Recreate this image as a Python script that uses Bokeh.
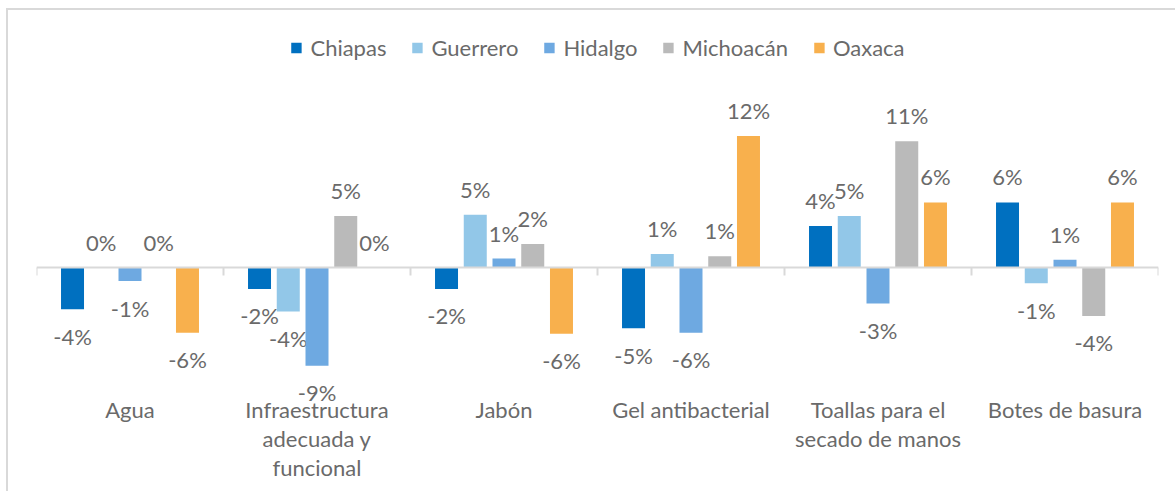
from bokeh.plotting import figure
from bokeh.models import ColumnDataSource, FactorRange, Span, Range1d
from bokeh.transform import dodge
from bokeh.core.properties import value
from bokeh.embed import file_html
from bokeh.resources import INLINE

categories = ["Agua", "Infraestructura\nadecuada y\nfuncional", "Jabón",
              "Gel antibacterial", "Toallas para el\nsecado de manos", "Botes de basura"]
series = ["Chiapas", "Guerrero", "Hidalgo", "Michoacán", "Oaxaca"]
chiapas = [-3.7, -1.9, -1.9, -5.4, 3.7, 5.8]
guerrero = [0.0, -3.9, 4.7, 1.2, 4.6, -1.4]
hidalgo = [-1.2, -8.75, 0.8, -5.8, -3.2, 0.7]
michoacan = [0.0, 4.6, 2.1, 1.0, 11.25, -4.3]
oaxaca = [-5.8, 0.0, -5.9, 11.7, 5.8, 5.8]
colors = ["#0070C0", "#92C7E8", "#6EA9E1", "#BABABA", "#F8B04D"]

values = [chiapas, guerrero, hidalgo, michoacan, oaxaca]

FONT = "Lato"
TXT = "#6a6a6a"

p = figure(width=1169, height=483, x_range=FactorRange(*categories),
           y_range=Range1d(-12.455, 21.99), output_backend="svg",
           toolbar_location=None, min_border_left=28, min_border_right=19,
           min_border_top=10, min_border_bottom=86)
p.styles = {"margin-left": "6px", "margin-top": "8px",
            "border-left": "2px solid #d9d9d9", "border-top": "2px solid #d9d9d9"}
p.outline_line_color = None
p.xgrid.visible = False
p.ygrid.visible = False
p.yaxis.visible = False

xa = p.xaxis[0]
xa.axis_line_color = None
xa.major_tick_line_color = None
xa.minor_tick_line_color = None
xa.major_label_text_font = FONT
xa.major_label_text_font_size = "22px"
xa.major_label_text_color = TXT
xa.major_label_text_line_height = 1.08
xa.major_label_standoff = -18

p.add_layout(Span(location=0, dimension="width", line_color="#d9d9d9", line_width=2))

step = 0.1537
bw = 0.123
for i, (name, vals, col) in enumerate(zip(series, values, colors)):
    src = ColumnDataSource(dict(
        cat=categories, val=vals,
        lab=[f"{round(v)}%" for v in vals],
        yoff=[-25.5 if v >= 0 else 27 for v in vals],
    ))
    off = (i - 2) * step
    p.vbar(x=dodge("cat", off, range=p.x_range), top="val", bottom=0, width=bw,
           color=col, line_color=None, source=src, legend_label=name)
    p.text(x=dodge("cat", off, range=p.x_range), y="val", text="lab", source=src,
           y_offset="yoff", text_align="center", text_baseline="middle",
           text_font=value(FONT), text_font_size="22px", text_color=TXT)

tick_src = ColumnDataSource(dict(cat=categories))
p.segment(x0=dodge("cat", -0.5, range=p.x_range), y0=0,
          x1=dodge("cat", -0.5, range=p.x_range), y1=-0.7,
          source=tick_src, line_color="#d9d9d9", line_width=2)
end_src = ColumnDataSource(dict(cat=categories[-1:]))
p.segment(x0=dodge("cat", 0.5, range=p.x_range), y0=0,
          x1=dodge("cat", 0.5, range=p.x_range), y1=-0.7,
          source=end_src, line_color="#d9d9d9", line_width=2)

lg = p.legend[0]
lg.location = "top_center"
lg.orientation = "horizontal"
lg.border_line_color = None
lg.background_fill_alpha = 0
lg.label_text_font = FONT
lg.label_text_font_size = "22px"
lg.label_text_color = TXT
lg.glyph_width = 13
lg.glyph_height = 13
lg.label_standoff = 8
lg.spacing = 24
lg.padding = 0
lg.margin = 14

open("out.html", "w").write(file_html(p, INLINE))
